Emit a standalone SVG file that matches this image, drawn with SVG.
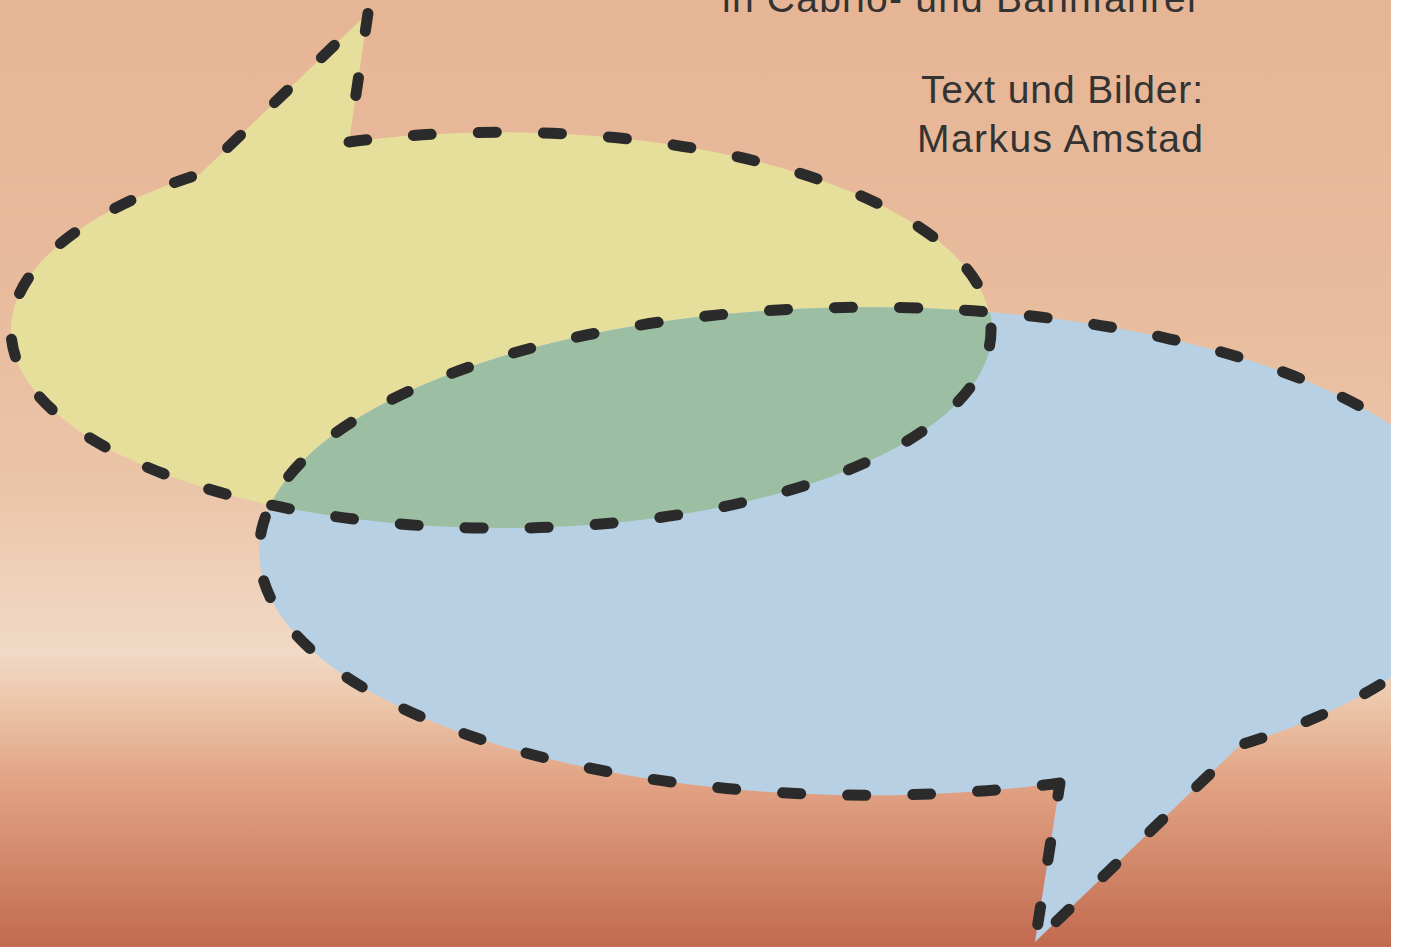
<svg xmlns="http://www.w3.org/2000/svg" width="1404" height="947" viewBox="0 0 1404 947">
<defs>
<linearGradient id="bg" x1="0" y1="0" x2="0" y2="947" gradientUnits="userSpaceOnUse">
<stop offset="0" stop-color="#e6b595"/>
<stop offset="0.3" stop-color="#e8bb9c"/>
<stop offset="0.52" stop-color="#ebc5a9"/>
<stop offset="0.62" stop-color="#efd2bc"/>
<stop offset="0.69" stop-color="#f0d9c5"/>
<stop offset="0.745" stop-color="#ecc5a9"/>
<stop offset="0.82" stop-color="#e2a586"/>
<stop offset="0.91" stop-color="#d2886a"/>
<stop offset="1" stop-color="#c26a50"/>
</linearGradient>
<clipPath id="blueClip"><path d="M 1060 783 A 610 244 0 1 1 1240 745 L 1035 942 Z"/></clipPath>
<style>
.outline{fill:none;stroke:#2b2b2b;stroke-width:11;stroke-dasharray:18 47;stroke-linecap:round;stroke-linejoin:round}
.txt{font-family:"Liberation Sans","Noto Sans",sans-serif;font-size:39px;fill:#333333;text-anchor:end}
</style>
</defs>
<rect x="0" y="0" width="1404" height="947" fill="url(#bg)"/>
<g id="bubble-yellow">
<path d="M 349 142 A 490 198 0 1 1 200 174 L 368 13 Z" fill="#e6df9c"/>
</g>
<g id="bubble-blue">
<path d="M 1060 783 A 610 244 0 1 1 1240 745 L 1035 942 Z" fill="#b8d0e3"/>
</g>
<g id="overlap">
<ellipse cx="502" cy="330" rx="490" ry="198" fill="#9cbfa3" clip-path="url(#blueClip)"/>
</g>
<g id="connectors">
<path class="outline" d="M 349 142 A 490 198 0 1 1 200 174 L 368 13 Z"/>
<path class="outline" d="M 1060 783 A 610 244 0 1 1 1240 745 L 1035 942 Z"/>
</g>
<g id="texts">
<text class="txt" x="1200" y="12" textLength="478" lengthAdjust="spacing">in Cabrio- und Bahnfahrer</text>
<text class="txt" x="1203" y="103" textLength="282" lengthAdjust="spacing">Text und Bilder:</text>
<text class="txt" x="1203" y="152" textLength="286" lengthAdjust="spacing">Markus Amstad</text>
</g>
<rect x="1391" y="0" width="13" height="947" fill="#ffffff"/>
</svg>
